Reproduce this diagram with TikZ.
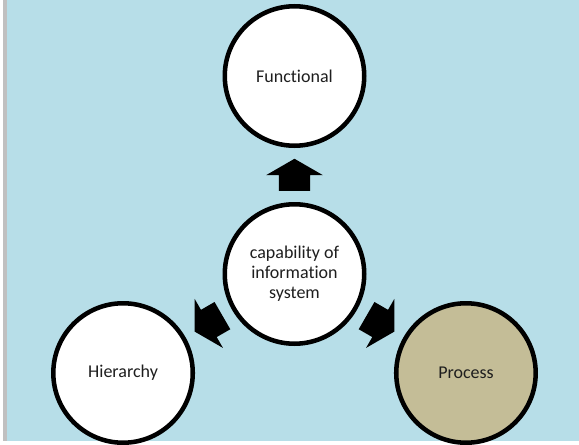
\documentclass[tikz,border=0pt]{standalone}
\usepackage{fontspec}
\setmainfont{Carlito}[Ligatures=NoCommon]
\usepackage{tikz}
\usetikzlibrary{calc,shapes.arrows}

\definecolor{skyback}{HTML}{B7DEE8}
\definecolor{tanfill}{HTML}{C4BD97}
\definecolor{edgegray}{HTML}{C0C0C0}
\definecolor{inkgray}{HTML}{1E1E1E}

\tikzset{
  hub/.style={circle, draw=black, line width=3.4pt, fill=white,
    minimum size=104.6pt, inner sep=0pt, align=center, text=inkgray,
    font=\fontsize{13.5}{15}\selectfont},
  blockarrow/.style={single arrow, fill=black, draw=none,
    inner xsep=0pt, inner ysep=11.6pt, minimum height=24pt,
    single arrow head extend=9.4pt, single arrow tip angle=120,
    single arrow head indent=0pt, anchor=tail}
}

\begin{document}
\begin{tikzpicture}[x=0.75pt, y=0.75pt]
    \useasboundingbox (0,0) rectangle (579,444);
    \fill[edgegray] (3,3) rectangle (7,444);
    \fill[skyback] (7,3) rectangle (579,444);

    \node[hub] (cap) at (294.5,170) {capability of\\information\\system};
    \node[hub] (func) at ($(cap)+(90:198)$) {Functional};
    \node[hub] (hier) at ($(cap)+(210:198)$) {Hierarchy};
    \node[hub, fill=tanfill] (proc) at ($(cap)+(330:198)$) {Process};

    \node[blockarrow, rotate=90]  (upward) at ($(cap)!0.419!(func)$) {};
    \node[blockarrow, rotate=210] (leftward) at ($(cap)!0.419!(hier)$) {};
    \node[blockarrow, rotate=330] (rightward) at ($(cap)!0.419!(proc)$) {};
\end{tikzpicture}
\end{document}
